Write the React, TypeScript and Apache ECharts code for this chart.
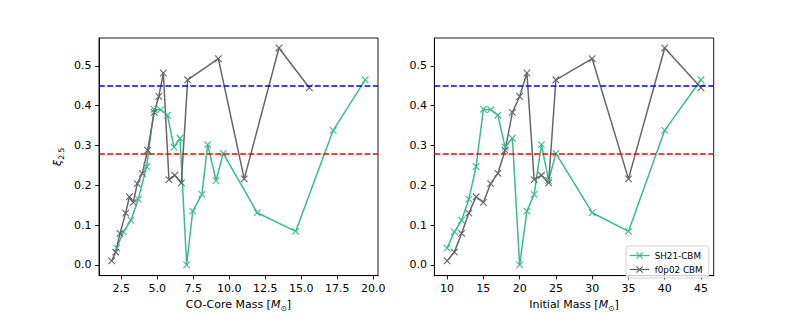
import React, { useEffect, useRef } from "react";
import * as echarts from "echarts";

// ---- data ----
const initialMass = [10, 11, 12, 13, 14, 15, 16, 17, 18, 19, 20, 21, 22, 23, 24, 25, 30, 35, 40, 45];
const xiSH21 = [0.042, 0.083, 0.112, 0.165, 0.247, 0.391, 0.390, 0.376, 0.296, 0.318, 0.0, 0.135, 0.177, 0.302, 0.212, 0.280, 0.131, 0.084, 0.338, 0.465];
const coSH21 = [2.18, 2.64, 3.17, 3.68, 4.26, 4.77, 5.23, 5.70, 6.16, 6.58, 7.04, 7.46, 8.10, 8.50, 9.08, 9.58, 11.94, 14.61, 17.22, 19.44];
const xiF0p02 = [0.010, 0.032, 0.079, 0.130, 0.171, 0.157, 0.204, 0.230, 0.288, 0.383, 0.423, 0.482, 0.214, 0.225, 0.206, 0.465, 0.518, 0.216, 0.545, 0.445];
const coF0p02 = [1.83, 2.11, 2.41, 2.80, 3.06, 3.33, 3.61, 3.96, 4.33, 4.79, 5.10, 5.42, 5.81, 6.21, 6.67, 7.11, 9.24, 11.04, 13.45, 15.56];

const xTicksCO = [2.5, 5, 7.5, 10, 12.5, 15, 17.5, 20];
const xTicksInit = [10, 15, 20, 25, 30, 35, 40, 45];
const yTicks = [0, 0.1, 0.2, 0.3, 0.4, 0.5];
const seriesNames = ["SH21-CBM", "f0p02 CBM"];
const thresholdHigh = 0.45;
const thresholdLow = 0.278;

const GREEN = "#3dba8b";
const GRAY = "#666666";
const FONT = "DejaVu Sans";
const X_MARK = "path://M0,0L10,10M10,0L0,10";

const zip = (xs: number[], ys: number[]) => xs.map((x, i) => [x, ys[i]]);

function App() {
  const ref = useRef<HTMLDivElement>(null);
  useEffect(() => {
    document.body.style.margin = "0";
    if (!ref.current) return;
    const chart = echarts.init(ref.current, null, { renderer: "svg" });

    const axisLine = { show: true, onZero: false, lineStyle: { color: "#000", width: 0.9 } };
    const tickStyle = { color: "#000", width: 0.9 };
    const labelBase = { color: "#000", fontSize: 11, fontFamily: FONT };

    const mkX = (grid: number, min: number, max: number, ticks: number[], fmt: (v: number) => string, name: string) => ({
      type: "value",
      gridIndex: grid,
      min,
      max,
      axisLine,
      axisTick: { show: true, length: 3.85, lineStyle: tickStyle, customValues: ticks },
      axisLabel: { ...labelBase, margin: 7.5, customValues: ticks, formatter: fmt },
      splitLine: { show: false },
      name,
      nameLocation: "middle",
      nameGap: 21,
      nameTextStyle: {
        ...labelBase,
        rich: {
          n: { ...labelBase, lineHeight: 15 },
          m: { ...labelBase, fontStyle: "italic", lineHeight: 15 },
          s: { ...labelBase, fontSize: 7.7, verticalAlign: "bottom" },
        },
      },
    });

    const mkY = (grid: number, withName: boolean) => ({
      type: "value",
      gridIndex: grid,
      min: -0.027,
      max: 0.57,
      axisLine,
      axisTick: { show: true, length: 3.85, lineStyle: tickStyle, customValues: yTicks },
      axisLabel: { ...labelBase, margin: 7.5, customValues: yTicks, formatter: (v: number) => v.toFixed(1) },
      splitLine: { show: false },
      name: withName ? "{x|ξ}{s|2.5}" : "",
      nameLocation: "middle",
      nameRotate: 90,
      nameGap: 34,
      nameTextStyle: {
        ...labelBase,
        rich: {
          x: { ...labelBase, fontStyle: "italic", lineHeight: 15 },
          s: { ...labelBase, fontSize: 7.7, verticalAlign: "bottom" },
        },
      },
    });

    const dashLines = {
      silent: true,
      symbol: "none",
      label: { show: false },
      emphasis: { disabled: true },
      data: [
        { yAxis: thresholdHigh, lineStyle: { color: "#0000ff", width: 1.65, type: [5.8, 2.5] } },
        { yAxis: thresholdLow, lineStyle: { color: "#ff0000", width: 1.65, type: [5.8, 2.5] } },
      ],
    };

    const mkSeries = (name: string, color: string, data: number[][], grid: number, withLines: boolean) => ({
      type: "line",
      name,
      xAxisIndex: grid,
      yAxisIndex: grid,
      data,
      symbol: X_MARK,
      symbolSize: 6.6,
      symbolKeepAspect: true,
      showAllSymbol: true,
      lineStyle: { color, width: 1.5 },
      itemStyle: { color, borderColor: color, borderWidth: 1.1 },
      emphasis: { disabled: true },
      markLine: withLines ? dashLines : undefined,
    });

    chart.setOption({
      animation: false,
      backgroundColor: "#fff",
      grid: [
        { left: 99, top: 38, width: 279, height: 244, show: true, borderColor: "#000", borderWidth: 0.9, backgroundColor: "transparent" },
        { left: 434.4, top: 38, width: 279.3, height: 244, show: true, borderColor: "#000", borderWidth: 0.9, backgroundColor: "transparent" },
      ],
      xAxis: [
        mkX(0, 0.95, 20.33, xTicksCO, (v: number) => v.toFixed(1), "{n|CO-Core Mass [}{m|M}{s|⊙}{n|]}"),
        mkX(1, 8.25, 46.75, xTicksInit, (v: number) => String(v), "{n|Initial Mass [}{m|M}{s|⊙}{n|]}"),
      ],
      yAxis: [mkY(0, true), mkY(1, false)],
      legend: {
        show: true,
        data: seriesNames,
        orient: "vertical",
        left: 626,
        top: 246,
        itemWidth: 20,
        itemHeight: 8,
        itemGap: 3,
        itemTextGap: 7,
        padding: [4, 6, 3, 3],
        borderColor: "#cccccc",
        borderWidth: 0.9,
        borderRadius: 3,
        backgroundColor: "rgba(255,255,255,0.8)",
        selectedMode: false,
        itemStyle: { borderWidth: 1.1 },
        lineStyle: { width: 1.3 },
        textStyle: { color: "#000", fontSize: 8.8, fontFamily: FONT, lineHeight: 11 },
      },
      series: [
        mkSeries(seriesNames[0], GREEN, zip(coSH21, xiSH21), 0, false),
        mkSeries(seriesNames[1], GRAY, zip(coF0p02, xiF0p02), 0, true),
        mkSeries(seriesNames[0], GREEN, zip(initialMass, xiSH21), 1, false),
        mkSeries(seriesNames[1], GRAY, zip(initialMass, xiF0p02), 1, true),
      ],
    });
    return () => chart.dispose();
  }, []);
  return <div ref={ref} style={{ width: 793, height: 317 }} />;
}

export default App;
